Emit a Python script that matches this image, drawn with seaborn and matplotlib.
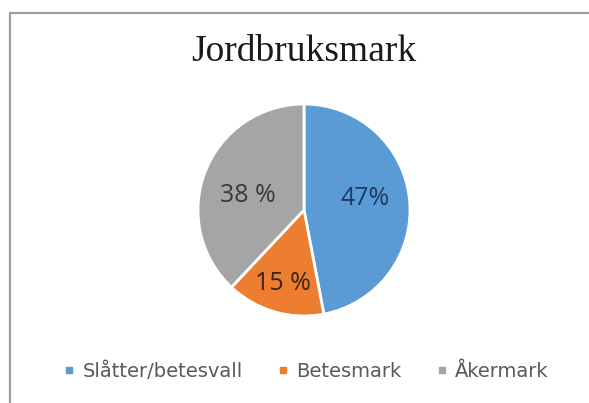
import matplotlib
matplotlib.use("Agg")
import matplotlib.pyplot as plt
from matplotlib.lines import Line2D
import numpy as np
import seaborn as sns

# Land-use shares of agricultural land
categories = ["Slåtter/betesvall", "Betesmark", "Åkermark"]
shares = [47, 15, 38]
pct_labels = ["47%", "15 %", "38 %"]
label_colors = ["#1f3864", "#3b2410", "#3a3a3a"]
title = "Jordbruksmark"

sns.set_theme(style="white")
palette = ["#5b9bd5", "#ed7d31", "#a5a5a5"]

W, H = 589, 403
fig = plt.figure(figsize=(W / 100, H / 100), dpi=100)
fig.patch.set_facecolor("white")

# pie axes: centre (304, 210) px, radius 106 px
cx, cy, r = 304, 210, 106
ax = fig.add_axes([(cx - r) / W, (H - cy - r) / H, 2 * r / W, 2 * r / H])
wedges, _ = ax.pie(shares, colors=palette, startangle=90, counterclock=False,
                   wedgeprops=dict(edgecolor="white", linewidth=2.0))
ax.set_xlim(-1, 1)
ax.set_ylim(-1, 1)
ax.set_aspect("equal")
ax.axis("off")

# value labels near the wedge mid-angles (radius, angular nudge in degrees)
radii = [0.59, 0.72, 0.55]
nudges = [5, 0, 7]
for w, txt, col, rr, dn in zip(wedges, pct_labels, label_colors, radii, nudges):
    mid = np.deg2rad((w.theta1 + w.theta2) / 2 + dn)
    ax.text(rr * np.cos(mid), rr * np.sin(mid), txt, ha="center", va="center",
            fontsize=18, color=col, family="Open Sans")

fig.text(304 / W, 1 - 52 / H, title, ha="center", va="center",
         fontsize=27, color="#1a1a1a", family="Liberation Serif")

handles = [Line2D([], [], marker="s", linestyle="none", markersize=4.5,
                  markerfacecolor=c, markeredgecolor=c) for c in palette]
leg = fig.legend(handles, categories, loc="center", ncol=3,
                 bbox_to_anchor=(306 / W, 1 - 371 / H), frameon=False,
                 handlelength=0.6, handletextpad=0.4, columnspacing=1.75,
                 prop={"family": "DejaVu Sans", "size": 14})
for t in leg.get_texts():
    t.set_color("#595959")

# chart frame
fig.add_artist(Line2D([10 / W, 1.0], [1 - 13 / H, 1 - 13 / H],
                      transform=fig.transFigure, color="#a0a0a0", linewidth=1.6))
fig.add_artist(Line2D([10 / W, 10 / W], [1 - 13 / H, 0.0],
                      transform=fig.transFigure, color="#a0a0a0", linewidth=1.6))

fig.savefig("out.png", dpi=100, facecolor="white")
